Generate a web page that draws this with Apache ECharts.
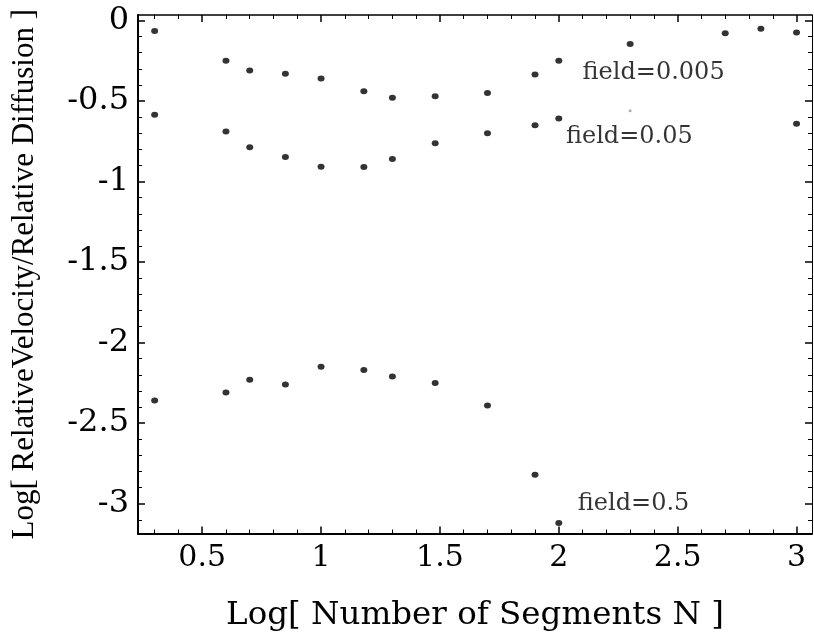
<!DOCTYPE html>
<html>
<head>
<meta charset="utf-8">
<script src="https://cdn.jsdelivr.net/npm/echarts@6/dist/echarts.min.js"></script>
<style>
  html, body { margin: 0; padding: 0; background: #fff; }
  #chart { width: 814px; height: 637px; }
</style>
</head>
<body>
<div id="chart"></div>
<script>
// Log10 of segment count N
const xField005 = [0.30, 0.60, 0.70, 0.85, 1.00, 1.18, 1.30, 1.48, 1.70, 1.90, 2.00, 2.30, 2.70, 2.85, 3.00];
const yField005 = [-0.065, -0.25, -0.31, -0.33, -0.36, -0.44, -0.48, -0.47, -0.45, -0.335, -0.25, -0.146, -0.079, -0.052, -0.075];

const xField05 = [0.30, 0.60, 0.70, 0.85, 1.00, 1.18, 1.30, 1.48, 1.70, 1.90, 2.00, 3.00];
const yField05 = [-0.586, -0.69, -0.787, -0.848, -0.908, -0.91, -0.86, -0.762, -0.70, -0.65, -0.608, -0.641];

const xField5 = [0.30, 0.60, 0.70, 0.85, 1.00, 1.18, 1.30, 1.48, 1.70, 1.90, 2.00];
const yField5 = [-2.36, -2.31, -2.23, -2.26, -2.15, -2.17, -2.21, -2.25, -2.39, -2.82, -3.12];

// faint speck left in the scan
const xFaint = [2.30];
const yFaint = [-0.56];

const fieldLabels = ['field=0.005', 'field=0.05', 'field=0.5'];
const labelX = [2.10, 2.03, 2.08];
const labelY = [-0.325, -0.72, -3.0];

const xTicks = [0.5, 1, 1.5, 2, 2.5, 3];
const yTicks = [0, -0.5, -1, -1.5, -2, -2.5, -3];

const xMin = 0.23, xMax = 3.065;
const yMin = -3.185, yMax = 0.034;

const pairs = (xs, ys) => xs.map((x, i) => [x, ys[i]]);

const chart = echarts.init(document.getElementById('chart'));

const frameAxis = (extra) => Object.assign({
  type: 'value',
  axisLine: { show: true, onZero: false, lineStyle: { color: '#000', width: 2 } },
  axisTick: { show: true, inside: true, length: 7, lineStyle: { color: '#000', width: 1.5 } },
  minorTick: { show: true, splitNumber: 5, length: 4, lineStyle: { color: '#000', width: 1 } },
  splitLine: { show: false },
  minorSplitLine: { show: false }
}, extra);

const dot = { symbol: 'circle', symbolSize: [7, 6], itemStyle: { color: '#000' } };

chart.setOption({
  animation: false,
  backgroundColor: '#fff',
  grid: { left: 138, right: 2, top: 15, bottom: 99 },
  xAxis: [
    frameAxis({
      position: 'bottom', min: xMin, max: xMax,
      axisTick: { show: true, inside: true, length: 7, customValues: xTicks, lineStyle: { color: '#000', width: 1.5 } },
      axisLabel: {
        margin: 10, customValues: xTicks, formatter: v => String(v),
        fontFamily: 'DejaVu Serif', fontSize: 30, color: '#000'
      },
      name: 'Log[ Number of Segments N ]',
      nameLocation: 'middle',
      nameGap: 82,
      nameTextStyle: { fontFamily: 'DejaVu Serif', fontSize: 32.5, color: '#000', verticalAlign: 'middle' }
    }),
    frameAxis({
      position: 'top', min: xMin, max: xMax,
      axisLine: { show: true, onZero: false, lineStyle: { color: '#000', width: 1.5 } },
      axisTick: { show: true, inside: true, length: 7, customValues: xTicks, lineStyle: { color: '#000', width: 1.5 } },
      axisLabel: { show: false }
    })
  ],
  yAxis: [
    frameAxis({
      position: 'left', min: yMin, max: yMax,
      axisTick: { show: true, inside: true, length: 7, customValues: yTicks, lineStyle: { color: '#000', width: 1.5 } },
      axisLabel: {
        margin: 9, customValues: yTicks, formatter: v => String(v),
        fontFamily: 'DejaVu Serif', fontSize: 32, color: '#000'
      },
      name: 'Log[ RelativeVelocity/Relative Diffusion ]',
      nameLocation: 'middle',
      nameRotate: 90,
      nameGap: 113,
      nameTextStyle: { fontFamily: 'Liberation Serif', fontSize: 31, color: '#000', verticalAlign: 'middle' }
    }),
    frameAxis({
      position: 'right', min: yMin, max: yMax,
      axisLine: { show: true, onZero: false, lineStyle: { color: '#000', width: 1 } },
      axisTick: { show: true, inside: true, length: 7, customValues: yTicks, lineStyle: { color: '#000', width: 1.5 } },
      axisLabel: { show: false }
    })
  ],
  series: [
    Object.assign({ name: 'field=0.005', type: 'scatter', data: pairs(xField005, yField005) }, dot),
    Object.assign({ name: 'field=0.05', type: 'scatter', data: pairs(xField05, yField05) }, dot),
    Object.assign({ name: 'field=0.5', type: 'scatter', data: pairs(xField5, yField5) }, dot),
    {
      name: 'faint', type: 'scatter', data: pairs(xFaint, yFaint),
      symbol: 'circle', symbolSize: 3, itemStyle: { color: '#999' }
    },
    {
      name: 'labels', type: 'scatter', silent: true, symbolSize: 0,
      data: fieldLabels.map((t, i) => [labelX[i], labelY[i], t]),
      label: {
        show: true, position: 'right', distance: 0,
        formatter: p => p.data[2],
        fontFamily: 'DejaVu Serif', fontSize: 24, color: '#000'
      }
    }
  ]
});
</script>
</body>
</html>
